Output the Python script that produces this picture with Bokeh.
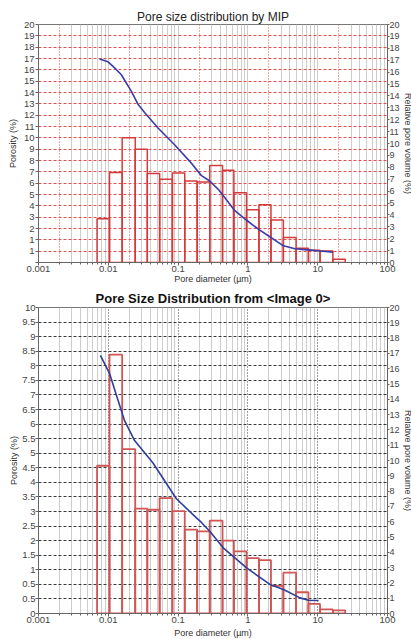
from bokeh.plotting import figure
from bokeh.models import Range1d, LinearAxis, FixedTicker, CustomJSTickFormatter
from bokeh.layouts import column
from bokeh.embed import file_html
from bokeh.resources import INLINE
import json

# ---------------- data ----------------
bin_edges = [0.0069, 0.0104, 0.0158, 0.0243, 0.0362, 0.0544, 0.0828, 0.1245, 0.1875,
             0.284, 0.433, 0.630, 0.957, 1.44, 2.14, 3.22, 4.90, 7.37, 10.8, 16.5, 24.8]

mip_porosity = [2.85, 6.95, 10.0, 9.0, 6.85, 6.35, 6.9, 6.2, 6.1, 7.55,
                7.15, 5.15, 3.65, 4.1, 2.75, 1.2, 0.25, 0.07, 0.02, -0.72]
image_porosity = [4.57, 8.38, 5.14, 3.10, 3.06, 3.46, 3.01, 2.38, 2.32, 2.69,
                  2.00, 1.63, 1.40, 1.33, 0.45, 0.90, 0.23, -0.17, -0.36, -0.39]

mip_curve_d = [0.0075, 0.0099, 0.0116, 0.0153, 0.0213, 0.0266, 0.0331, 0.0516, 0.089,
               0.147, 0.216, 0.284, 0.376, 0.468, 0.65, 0.96, 1.41, 1.96, 3.23, 4.73,
               7.78, 10.8, 16.5]
mip_curve_vol = [17.1, 16.86, 16.5, 15.8, 14.4, 13.3, 12.6, 11.3, 9.9, 8.5, 7.3, 6.85,
                 6.15, 5.45, 4.35, 3.55, 2.8, 2.25, 1.4, 1.15, 1.04, 0.96, 0.87]

image_curve_d = [0.0077, 0.0104, 0.0130, 0.0171, 0.0238, 0.0437, 0.0945, 0.183, 0.216,
                 0.284, 0.443, 0.957, 2.07, 3.23, 5.58, 7.38, 10.3]
image_curve_vol = [16.87, 15.7, 14.3, 12.6, 11.3, 9.84, 7.5, 6.25, 5.95, 5.38, 4.29,
                   2.98, 1.9, 1.57, 1.02, 0.87, 0.85]

x_ticks = [0.001, 0.01, 0.1, 1, 10, 100]
x_minor_ticks = [m * 10.0 ** k for k in range(-3, 2) for m in range(2, 10)]
mip_grid_ticks = [0.002, 0.02, 0.2, 2, 20]
mip_grid_minor = [m * 10.0 ** k for k in range(-3, 2) for m in (1, 3, 4, 5, 6, 7, 8, 9)]

mip_left_ticks = list(range(-1, 21))
mip_left_labels = ["", "1"] + [str(v) for v in range(1, 21)]
image_left_ticks = [v * 0.5 for v in range(-1, 21)]
image_left_labels = ["0", "0.5"] + ["%g" % (v * 0.5) for v in range(1, 21)]
right_ticks = list(range(0, 21))

FONT = "Liberation Sans"


def label_formatter(ticks, labels):
    mapping = {("%g" % t): lab for t, lab in zip(ticks, labels)}
    code = ("const m = %s; const k = String(tick); "
            "return (k in m) ? m[k] : k;") % json.dumps(mapping)
    return CustomJSTickFormatter(code=code)


def style_axis(ax):
    ax.axis_line_color = "#666"
    ax.major_tick_line_color = "#666"
    ax.minor_tick_line_color = "#666"
    ax.major_tick_in = 0
    ax.minor_tick_in = 0
    ax.major_label_text_font = FONT
    ax.major_label_text_font_size = "9.5px"
    ax.major_label_text_color = "#444"
    ax.axis_label_text_font = FONT
    ax.axis_label_text_font_size = "9px"
    ax.axis_label_text_font_style = "normal"
    ax.axis_label_text_color = "#333"


def make_panel(title, bold, title_size, title_standoff, y_start, y_end, left_ticks,
               left_labels, frame_h, top_border, bottom_border, xlabel_standoff,
               ylabel_standoff, grid_color, grid_ticker):
    p = figure(x_axis_type="log", x_range=Range1d(0.001, 100),
               y_range=Range1d(y_start, y_end), frame_width=349, frame_height=frame_h,
               output_backend="svg", toolbar_location=None,
               min_border_left=38, min_border_right=0,
               min_border_top=top_border, min_border_bottom=bottom_border)
    p.title.text = title
    p.title.align = "center"
    p.title.text_font = FONT
    p.title.text_font_size = title_size
    p.title.text_font_style = "bold" if bold else "normal"
    p.title.text_color = "#111" if bold else "#222"
    p.title.standoff = title_standoff
    p.outline_line_color = "#777"

    p.extra_y_ranges = {"vol": Range1d(0, 20)}
    right = LinearAxis(y_range_name="vol", axis_label="Relative pore volume (%)")
    right.ticker = FixedTicker(ticks=right_ticks)
    style_axis(right)
    right.major_label_text_font_size = "9px"
    right.major_tick_out = 2
    right.major_label_standoff = 0
    right.axis_label_standoff = 0
    p.add_layout(right, "right")

    xa = p.xaxis[0]
    xa.ticker = FixedTicker(ticks=x_ticks, minor_ticks=x_minor_ticks)
    xa.formatter = CustomJSTickFormatter(code="return String(tick);")
    xa.axis_label = "Pore diameter (\u00b5m)"
    style_axis(xa)
    xa.major_tick_out = 3
    xa.minor_tick_out = 2
    xa.major_label_standoff = 0
    xa.axis_label_standoff = xlabel_standoff

    ya = p.yaxis[0]
    ya.ticker = FixedTicker(ticks=left_ticks)
    ya.formatter = label_formatter(left_ticks, left_labels)
    ya.axis_label = "Porosity (%)"
    style_axis(ya)
    ya.major_tick_out = 3
    ya.major_label_standoff = 1
    ya.axis_label_standoff = ylabel_standoff

    p.ygrid.grid_line_color = grid_color
    p.ygrid.grid_line_dash = "3 2"
    p.ygrid.grid_line_width = 1
    p.xgrid.ticker = grid_ticker
    p.xgrid.grid_line_color = grid_color
    p.xgrid.grid_line_dash = "1 2"
    p.xgrid.grid_line_width = 1
    p.xgrid.minor_grid_line_color = "#cdcdcd"
    p.xgrid.minor_grid_line_width = 1
    return p


fig1 = make_panel("Pore size distribution by MIP", False, "12px", 1, -1, 20,
                  mip_left_ticks, mip_left_labels, 238, 24, 24, -1, 3, "#e05050",
                  FixedTicker(ticks=mip_grid_ticks, minor_ticks=mip_grid_minor))
fig1.quad(left=bin_edges[:-1], right=bin_edges[1:], bottom=-1, top=mip_porosity,
          fill_alpha=0, line_color="#d43a3a", line_width=1.5)
fig1.line(mip_curve_d, mip_curve_vol, y_range_name="vol", line_color="#3c3ca8",
          line_width=1.6)

fig2 = make_panel("Pore Size Distribution from <Image 0>", True, "13px", 4, -0.5, 10,
                  image_left_ticks, image_left_labels, 306, 0, 24, 2, 0, "#3a3a3a",
                  FixedTicker(ticks=x_ticks, minor_ticks=x_minor_ticks))
fig2.yaxis[0].major_label_standoff = 0
fig2.quad(left=bin_edges[:-1], right=bin_edges[1:], bottom=-0.5, top=image_porosity,
          fill_alpha=0, line_color="#d05555", line_width=1.8)
fig2.line(image_curve_d, image_curve_vol, y_range_name="vol", line_color="#2f3f9c",
          line_width=1.6)

layout = column(fig1, fig2, spacing=0)
open("out.html", "w").write(file_html(layout, INLINE))
